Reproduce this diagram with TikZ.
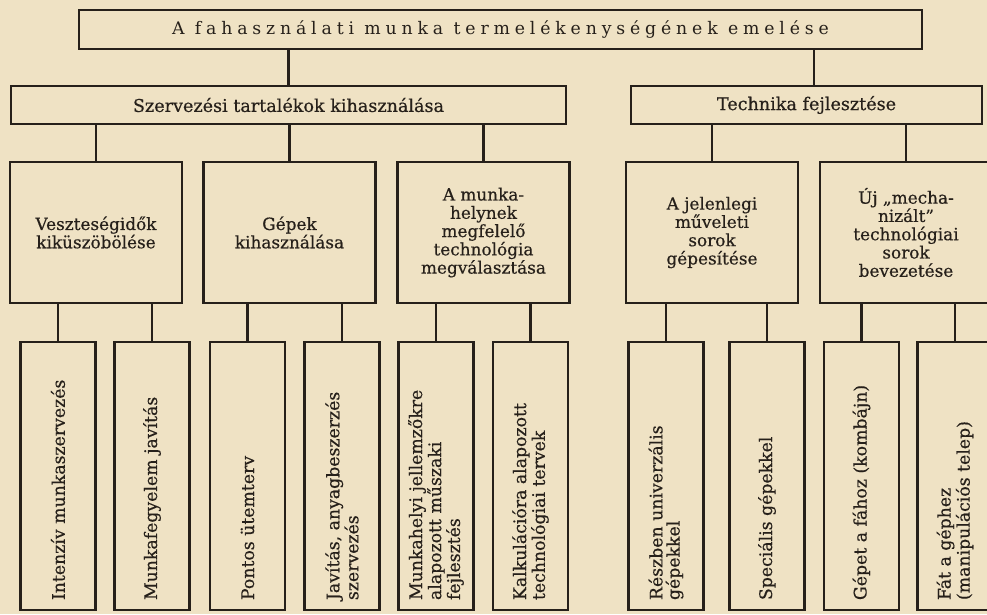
\documentclass[tikz,border=0pt]{standalone}
\usepackage{fontspec}
\setmainfont[FakeBold=0.5]{DejaVu Serif}
\newfontfamily\spacedfont[LetterSpace=28]{DejaVu Serif}
\usepackage{graphicx}
\usetikzlibrary{positioning,calc}
\definecolor{paper}{RGB}{239,226,196}
\definecolor{ink}{RGB}{38,32,26}
\newcommand{\leaflabel}[1]{\rotatebox{90}{\parbox{6.2cm}{\raggedright #1}}}

\begin{document}
\begin{tikzpicture}[x=0.025cm,y=-0.025cm,
  box/.style={draw=ink,text=ink,line width=1.7pt,inner sep=0pt,
    font=\fontsize{12}{13}\selectfont,align=center},
  topbox/.style={box,minimum width=21.075cm,minimum height=0.975cm,
    font=\spacedfont\fontsize{12.3}{13}\selectfont},
  midbox/.style={box,minimum height=0.95cm,font=\fontsize{12.5}{13}\selectfont},
  branch/.style={box,minimum width=4.3cm,minimum height=3.525cm},
  leaf/.style={box,minimum width=1.875cm,minimum height=6.7cm,font=\fontsize{12.3}{12.2}\selectfont},
  link/.style={draw=ink,line width=1.7pt}]
  \useasboundingbox (0,0) rectangle (987,614);
  \clip (0,0) rectangle (987,614);
  \fill[paper] (0,0) rectangle (987,614);
  % Top level
  \path (500.5,29.5) node[topbox] (top) {A fahasználati munka termelékenységének emelése};
  % Second level
  \path (288.5,105) node[midbox,minimum width=13.875cm] (szerv) {Szervezési tartalékok kihasználása};
  \path (806.5,105) node[midbox,minimum width=8.775cm] (techn) {Technika fejlesztése};
  % Third level
  \path (96,232.5) node[branch] (veszt) {Veszteségidők\\kiküszöbölése};
  \path (289.5,232.5) node[branch] (gepek) {Gépek\\kihasználása};
  \path (483.5,232.5) node[branch] (munkahely) {A munka-\\helynek\\megfelelő\\technológia\\megválasztása};
  \path (712,232.5) node[branch] (jelenlegi) {A jelenlegi\\műveleti\\sorok\\gépesítése};
  \path (906,232.5) node[branch] (uj) {Új „mecha-\\nizált”\\technológiai\\sorok\\bevezetése};
  % Fourth level
  \path (58,476) node[leaf] (intenziv) {\leaflabel{Intenzív munkaszervezés}};
  \path (152,476) node[leaf] (fegyelem) {\leaflabel{Munkafegyelem javítás}};
  \path (247.5,476) node[leaf] (utemterv) {\leaflabel{Pontos ütemterv}};
  \path (342,476) node[leaf] (javitas) {\leaflabel{Javítás, anyagbeszerzés\\szervezés}};
  \path (436,476) node[leaf] (jellemzo) {\leaflabel{Munkahelyi jellemzőkre\\alapozott műszaki\\fejlesztés}};
  \path (530.5,476) node[leaf] (kalkulacio) {\leaflabel{Kalkulációra alapozott\\technológiai tervek}};
  \path (666,476) node[leaf] (reszben) {\leaflabel{Részben univerzális\\gépekkel}};
  \path (767,476) node[leaf] (specialis) {\leaflabel{Speciális gépekkel}};
  \path (861.5,476) node[leaf] (fahoz) {\leaflabel{Gépet a fához (kombájn)}};
  \path (955,476) node[leaf] (gephez) {\leaflabel{Fát a géphez\\(manipulációs telep)}};
  % Connections
  \draw[link] (szerv.north) -- (szerv.north |- top.south);
  \draw[link] ([xshift=0.19cm]techn.north) -- ([xshift=0.19cm]techn.north |- top.south);
  \draw[link] (veszt.north) -- (veszt.north |- szerv.south) (gepek.north) -- (gepek.north |- szerv.south) (munkahely.north) -- (munkahely.north |- szerv.south);
  \draw[link] (jelenlegi.north) -- (jelenlegi.north |- techn.south) (uj.north) -- (uj.north |- techn.south);
  \draw[link] (intenziv.north) -- (intenziv.north |- veszt.south) (fegyelem.north) -- (fegyelem.north |- veszt.south);
  \draw[link] (utemterv.north) -- (utemterv.north |- gepek.south) (javitas.north) -- (javitas.north |- gepek.south);
  \draw[link] (jellemzo.north) -- (jellemzo.north |- munkahely.south) (kalkulacio.north) -- (kalkulacio.north |- munkahely.south);
  \draw[link] (reszben.north) -- (reszben.north |- jelenlegi.south) (specialis.north) -- (specialis.north |- jelenlegi.south);
  \draw[link] (fahoz.north) -- (fahoz.north |- uj.south) (gephez.north) -- (gephez.north |- uj.south);
\end{tikzpicture}
\end{document}
